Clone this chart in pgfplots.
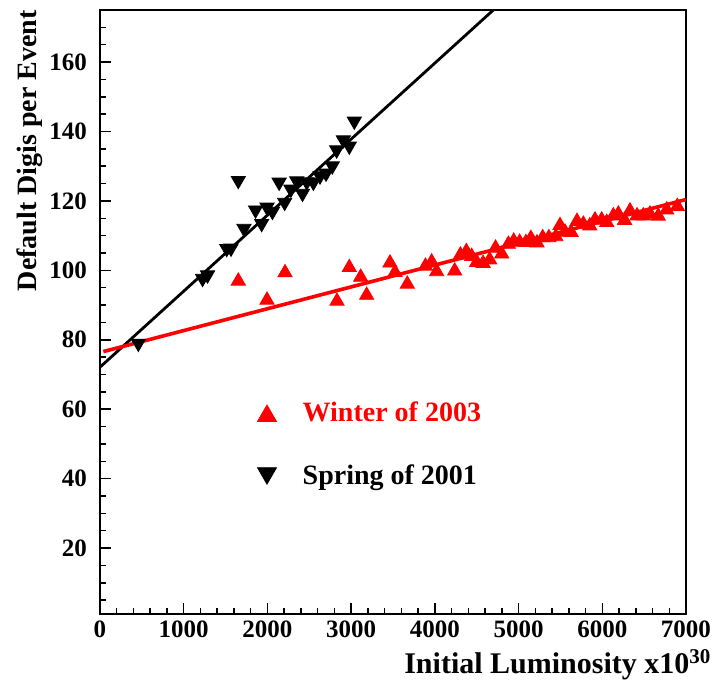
\documentclass[border=0pt]{standalone}
\usepackage{fontspec}
\setmainfont{Liberation Serif}
\usepackage{pgfplots}
\pgfplotsset{compat=1.18}
\usetikzlibrary{calc}

\pgfplotstableread{
x y
458 78.4
1225 97.1
1285 98.1
1514 105.7
1565 105.8
1652 125.3
1720 111.5
1858 116.8
1931 112.9
1995 117.6
2060 116.4
2140 124.8
2206 119.0
2280 122.8
2350 125.2
2419 121.6
2470 124.9
2549 124.8
2628 126.6
2700 127.4
2775 129.5
2827 134.1
2907 137.0
2978 135.2
3038 142.4
405 0
513 0
1160 0
1350 0
1445 0
1790 0
3130 0
6990 0
}\spring

\pgfplotstableread{
x y
1652 97.5
1995 92.0
2210 99.9
2831 91.7
2978 101.4
3114 98.6
3185 93.4
3464 102.7
3524 100.0
3671 96.6
3888 101.8
3962 103.0
4022 100.2
4237 100.4
4305 105.0
4376 106.0
4440 104.6
4500 102.9
4576 102.6
4655 103.6
4725 107.0
4799 105.3
4878 108.1
4942 109.0
5013 108.7
5087 108.6
5147 109.8
5220 108.5
5288 110.0
5362 110.0
5445 110.3
5495 113.5
5555 111.6
5628 111.5
5698 114.7
5774 113.9
5850 113.4
5913 115.1
5993 115.1
6053 114.4
6132 116.3
6192 116.8
6266 115.0
6331 117.7
6415 116.3
6490 116.3
6570 116.8
6669 116.2
6770 118.0
6897 119.0
1580 0
1720 0
1930 0
2070 0
2140 0
2280 0
2770 0
2910 0
3050 0
3260 0
3400 0
3600 0
3740 0
3810 0
4090 0
4170 0
6820 0
6960 0
}\winter

\begin{document}
\begin{tikzpicture}
\begin{axis}[
  scale only axis, width=293pt, height=302pt,
  xmin=0, xmax=7000, ymin=1, ymax=175,
  axis line style={line width=0.75pt},
  tick style={line width=0.75pt, black},
  tick align=inside,
  xtick={0,1000,...,7000}, ytick={20,40,...,160},
  minor xtick={200,400,...,6800}, minor ytick={5,10,...,170},
  major tick length=5.5pt, minor tick length=3pt,
  xtick pos=left, ytick pos=left,
  clip marker paths=true,
  /pgf/number format/assume math mode=true,
  /pgf/number format/1000 sep={},
  ticklabel style={font=\fontsize{12.5}{14}\selectfont\bfseries},
  yticklabel style={xshift=-3pt},
  xlabel={Initial Luminosity x10\textsuperscript{30}},
  ylabel={Default Digis per Event},
  xlabel style={font=\fontsize{15}{17}\selectfont\bfseries, at={(axis description cs:1.044,-0.0993)}, anchor=base east, inner sep=0pt},
  ylabel style={font=\fontsize{14}{16}\selectfont\bfseries, at={(axis description cs:-0.120,1)}, anchor=east, inner sep=0pt},
  legend style={draw=none, fill=none, inner sep=0pt, outer sep=0pt,
    at={(axis cs:1881,49.8)}, anchor=west,
    font=\fontsize{14}{16}\selectfont\bfseries,
    row sep=16pt,
    nodes={inner sep=2pt}},
  legend cell align=left,
  legend image code/.code={\draw[#1] plot coordinates {(0cm,0cm)}; \path (0.55cm,0cm);},
]
\coordinate (bl) at (rel axis cs:0,0);
\coordinate (tr) at (rel axis cs:1,1);

\addplot[forget plot, black, line width=1.4pt] coordinates {(0,72.1) (4699,175)};
\addplot[forget plot, red, line width=1.8pt] coordinates {(40,76.6) (7000,120.4)};

\addplot[forget plot, only marks, red, mark=triangle*, mark size=4.1pt,
  mark options={yshift=-1.0pt}] table {\winter};
\addplot[forget plot, only marks, black, mark=triangle*, mark size=4.1pt,
  mark options={yshift=1.0pt, rotate=180}] table {\spring};

\addlegendimage{only marks, red, mark=triangle*, mark size=5.5pt, mark options={yshift=-1.4pt}}
\addlegendentry{\textcolor{red}{Winter of 2003}}
\addlegendimage{only marks, black, mark=triangle*, mark size=5.5pt, mark options={yshift=1.4pt, rotate=180}}
\addlegendentry{Spring of 2001}
\end{axis}
\pgfresetboundingbox
\path ($(bl)+(-50pt,-34.5pt)$) rectangle ($(tr)+(15.5pt,5pt)$);
\end{tikzpicture}
\end{document}
